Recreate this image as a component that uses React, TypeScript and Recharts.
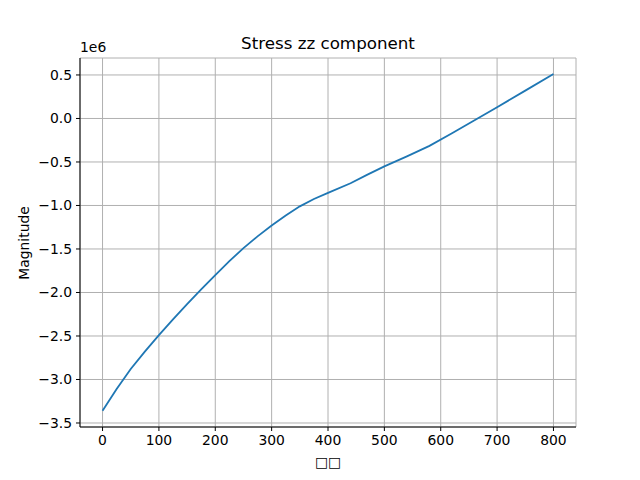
import React from 'react';
import { LineChart, Line, XAxis, YAxis, CartesianGrid } from 'recharts';

// x positions and stress values (in units of 1e6)
const positions = [0, 25, 50, 75, 100, 125, 150, 175, 200, 225, 250, 275, 300, 325, 350, 375, 400, 440, 470, 500, 540, 580, 620, 660, 700, 750, 800];
const stressZz = [-3.36, -3.11, -2.88, -2.68, -2.49, -2.31, -2.135, -1.965, -1.8, -1.64, -1.49, -1.355, -1.23, -1.115, -1.01, -0.925, -0.855, -0.745, -0.645, -0.55, -0.435, -0.315, -0.17, -0.02, 0.13, 0.32, 0.51];
const xTicks = [0, 100, 200, 300, 400, 500, 600, 700, 800];
const yTicks = [-3.5, -3, -2.5, -2, -1.5, -1, -0.5, 0, 0.5];

const data = positions.map((x, i) => ({ x, v: stressZz[i] }));

const font = 'DejaVu Sans, sans-serif';
const fmtY = (v: number) => v.toFixed(1).replace('-', '\u2212');

const App: React.FC = () => {
  return (
    <div style={{ position: 'absolute', left: 0, top: 0, width: 640, height: 480, background: '#fff', fontFamily: font }}>
      <LineChart
        width={640}
        height={480}
        data={data}
        margin={{ top: 58, right: 64, bottom: 0, left: 0 }}
      >
        <CartesianGrid stroke="#b0b0b0" strokeWidth={1} />
        <XAxis
          dataKey="x"
          type="number"
          domain={[-40, 840]}
          ticks={xTicks}
          height={53}
          tickSize={4}
          tickMargin={4}
          stroke="#000"
          tick={{ fill: '#000', fontSize: 13.9, fontFamily: font }}
          axisLine={{ stroke: '#000', strokeWidth: 1 }}
          tickLine={{ stroke: '#000', strokeWidth: 1 }}
        />
        <XAxis
          xAxisId="top"
          orientation="top"
          type="number"
          domain={[-40, 840]}
          height={0}
          tick={false}
          tickLine={false}
          axisLine={{ stroke: '#000', strokeWidth: 1 }}
        />
        <YAxis
          type="number"
          domain={[-3.546, 0.695]}
          ticks={yTicks}
          width={80}
          tickSize={4}
          tickMargin={4}
          tickFormatter={fmtY}
          tick={{ fill: '#000', fontSize: 13.9, fontFamily: font }}
          axisLine={{ stroke: '#000', strokeWidth: 1 }}
          tickLine={{ stroke: '#000', strokeWidth: 1 }}
        />
        <YAxis
          yAxisId="right"
          orientation="right"
          type="number"
          domain={[-3.546, 0.695]}
          width={0}
          tick={false}
          tickLine={false}
          axisLine={{ stroke: '#000', strokeWidth: 1 }}
        />
        <Line
          type="linear"
          dataKey="v"
          stroke="#1f77b4"
          strokeWidth={1.8}
          dot={false}
          isAnimationActive={false}
        />
      </LineChart>
      <div style={{ position: 'absolute', left: 0, width: 656, top: 33, textAlign: 'center', fontSize: 16.7, lineHeight: '20px' }}>
        Stress zz component
      </div>
      <div style={{ position: 'absolute', left: 80, top: 38, fontSize: 13.9, lineHeight: '18px' }}>1e6</div>
      <div style={{ position: 'absolute', left: 0, width: 656, top: 453, textAlign: 'center', fontSize: 13.9, lineHeight: '18px' }}>
        □□
      </div>
      <div
        style={{
          position: 'absolute',
          left: 24,
          top: 243,
          fontSize: 13.9,
          lineHeight: '18px',
          whiteSpace: 'nowrap',
          transform: 'translate(-50%, -50%) rotate(-90deg)'
        }}
      >
        Magnitude
      </div>
    </div>
  );
};

export default App;
